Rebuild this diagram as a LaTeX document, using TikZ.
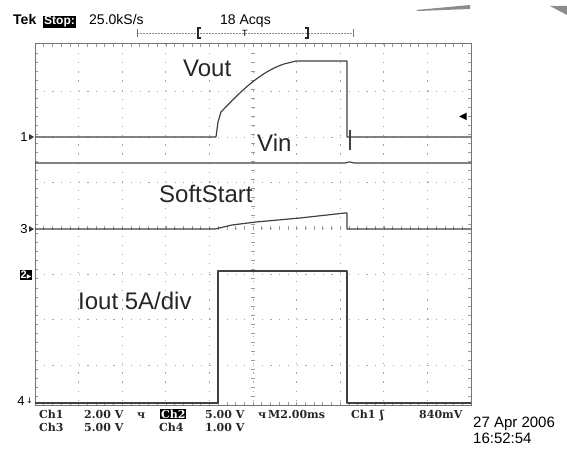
\documentclass[tikz,border=0pt]{standalone}
\usepackage{fontspec}
\setmainfont{Liberation Sans}
\newfontfamily\statfont{DejaVu Serif}
\newfontfamily\symfont{DejaVu Sans}
\usetikzlibrary{positioning}

\begin{document}
\begin{tikzpicture}[ x=1pt, y=-1pt, >=stealth,
        trace/.style={ draw=black!75, line width=1.2pt, line join=round },
        vgrid/.style={ draw=black!35, line width=0.9pt,
          dash pattern=on 1.2pt off 7.92pt },
        hgrid/.style={ draw=black!35, line width=0.9pt,
          dash pattern=on 1.2pt off 7.52pt },
        minor/.style={ draw=black!40, line width=0.6pt },
        tracename/.style={ font=\fontsize{24}{24}\selectfont, text=black!85,
          anchor=base west, inner sep=0pt },
        hdr/.style={ font=\fontsize{14}{14}\selectfont, anchor=base west,
          inner sep=0pt },
        stat/.style={ font=\statfont\fontsize{11}{11}\selectfont\bfseries,
          text=black!85, anchor=base west, inner sep=0pt },
        inv/.style={ fill=black, text=white, inner sep=1pt },
        chmark/.style={ font=\fontsize{13}{13}\selectfont, inner sep=0pt } ]
        \useasboundingbox (0,0) rectangle (567,449);

        % graticule
        \foreach \k in {1,...,9}
        \draw[vgrid] ({35+43.6*\k},44) -- ({35+43.6*\k},405);
        \foreach \k in {1,...,7}
        \draw[hgrid] (35,{46+45.6*\k}) -- (471,{46+45.6*\k});
        \foreach \t in {1,...,49} {
          \draw[minor] ({35+8.72*\t},44) -- ({35+8.72*\t},47);
          \draw[minor] ({35+8.72*\t},405) -- ({35+8.72*\t},402);
          \draw[minor] ({35+8.72*\t},226.4) -- ({35+8.72*\t},230.4);
        }
        \foreach \t in {1,...,39} {
          \draw[minor] (35,{44+9.03*\t}) -- (38,{44+9.03*\t});
          \draw[minor] (471,{44+9.03*\t}) -- (468,{44+9.03*\t});
          \draw[minor] (251,{44+9.03*\t}) -- (255,{44+9.03*\t});
        }
        \draw[black!55, line width=1pt] (35,44) rectangle (471,405);

        % traces
        \draw[trace] (35,137) -- (216,137) -- (218,122) -- (221,112)
        .. controls (240,92) and (260,72) .. (284,64) -- (296,61)
        -- (347,61) -- (347,137) -- (471,137);
        \draw[trace] (350,130) -- (350,150);
        \draw[trace] (35,163) -- (345,163) .. controls (348,161.5) and (351,161.5)
        .. (354,163) -- (471,163);
        \draw[trace] (35,229) -- (215,229) -- (232,225) -- (256,222)
        -- (300,218) -- (345,213) -- (347,213) -- (347,229) -- (471,229);
        \draw[trace] (35,403) -- (218,403) -- (218,271) -- (347,271)
        -- (347,403) -- (471,403);

        \node[tracename] (vout) at (183,77) {Vout};
        \node[tracename] (vin) at (257,152) {Vin};
        \node[tracename] (soft) at (159,202) {SoftStart};
        \node[tracename] (iout) at (78,309) {Iout 5A/div};

        % channel markers
        \node[chmark] (m1) at (24,137) {1};
        \node[chmark] (m3) at (24,229) {3};
        \node[chmark] (m4) at (21,401) {4};
        \node[inv, font=\fontsize{11}{11}\selectfont\bfseries] (m2) at (26,275)
        {2\symfont\fontsize{6}{6}\selectfont ▶};
        \foreach \y in {137,229}
        \fill[black!80] (29,{\y-3}) -- (34,\y) -- (29,{\y+3}) -- cycle;
        \node[font=\symfont\fontsize{8}{8}\selectfont, inner sep=0pt,
          right=1pt of m4] (m4arrow) {↓};
        \node[font=\symfont\fontsize{10}{10}\selectfont, inner sep=0pt]
        (trig) at (463,117) {◀};

        % header
        \node[hdr, font=\fontsize{14}{14}\selectfont\bfseries] (tek) at (13,25) {Tek};
        \node[inv, font=\fontsize{12}{12}\selectfont\bfseries, anchor=base west]
        (stop) at (43,25) {Stop:};
        \node[hdr] (rate) at (89,25) {25.0kS/s};
        \node[hdr] (acqs) at (220,25) {18 Acqs};
        \draw[black!45, dash pattern=on 2pt off 1pt] (137,33) -- (353,33);
        \draw[black!55] (137,29) -- (137,37) (353,29) -- (353,37);
        \draw[black!85, line width=1.2pt] (201,28) -- (198,28) -- (198,38)
        -- (201,38) (305,28) -- (308,28) -- (308,38) -- (305,38);
        \node[hdr, font=\fontsize{9}{9}\selectfont] (trg) at (242,37) {T};

        % screenshot edge
        \fill[black!45] (416,10) -- (470,5) -- (470,9) -- (418,11) -- cycle;
        \fill[black!45] (550,6) -- (567,6) -- (567,15) -- cycle;

        % status lines
        \foreach \x/\t in {39/Ch1, 84/2.00 V, 205/5.00 V, 268/M2.00ms,
          351/Ch1, 419/840mV}
        \node[stat] (s\x) at (\x,418) {\t};
        \foreach \x/\t in {39/Ch3, 84/5.00 V, 159/Ch4, 205/1.00 V}
        \node[stat] (r\x) at (\x,431) {\t};
        \node[stat, fill=black, text=white, inner sep=0.8pt] (ch2) at (160,418) {Ch2};
        \node[stat] (bw1) at (137,418) {ч};
        \node[stat] (bw2) at (258,418) {ч};
        \node[stat] (edge) at (380,418) {ʃ};
        \node[hdr, font=\fontsize{15}{15}\selectfont] (date) at (473,427) {27 Apr 2006};
        \node[hdr, font=\fontsize{15}{15}\selectfont] (time) at (473,443) {16:52:54};
      \end{tikzpicture}
\end{document}
